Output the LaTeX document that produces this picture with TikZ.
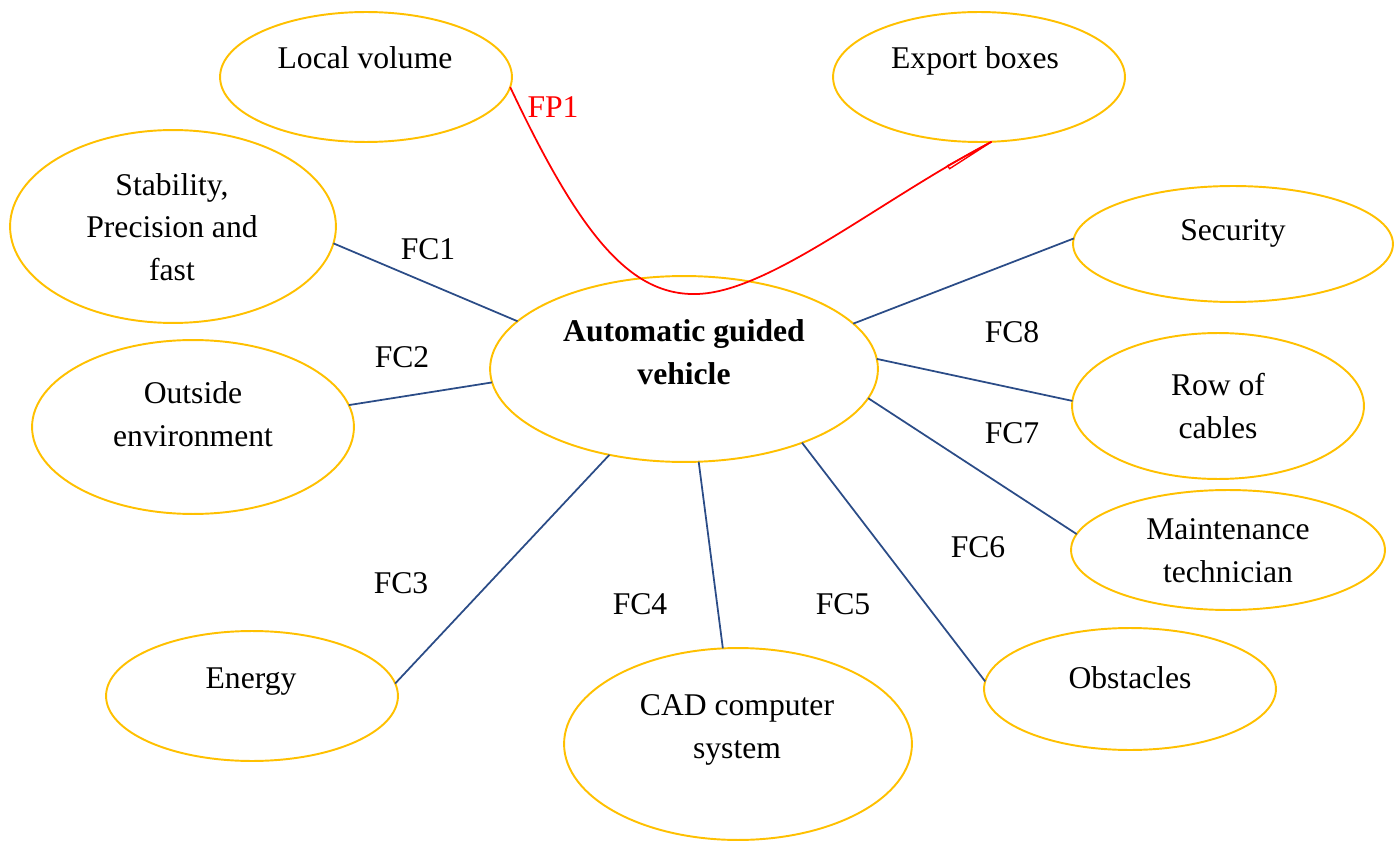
\documentclass[tikz,border=0pt]{standalone}
\usepackage{fontspec}
\setmainfont{Liberation Serif}
\usetikzlibrary{shapes.geometric}
\definecolor{ellc}{HTML}{FFC000}
\definecolor{linec}{HTML}{2B4C87}
\definecolor{redc}{HTML}{FF0000}
\begin{document}
\begin{tikzpicture}[x=0.02cm,y=-0.02cm,
  ell/.style 2 args={ellipse, draw=ellc, line width=1.1pt, inner sep=0pt, outer sep=0pt,
    minimum width=#1*0.04cm, minimum height=#2*0.04cm},
  txt/.style={anchor=base, align=center, inner sep=0pt, font=\fontsize{18}{24}\selectfont},
  fc/.style={anchor=center, inner sep=0pt, font=\fontsize{18}{24}\selectfont},
  conn/.style={draw=linec, line width=1pt}]
\useasboundingbox (0,0) rectangle (1400,841);
% ellipses
\node[ell={146}{65}] (lv) at (366,77) {};
\node[ell={146}{65}] (eb) at (979,77) {};
\node[ell={163}{96.5}] (stab) at (173,226.5) {};
\node[ell={161}{87}] (oe) at (193,427) {};
\node[ell={194}{93}] (agv) at (684,369) {};
\node[ell={160}{58}] (sec) at (1233,244) {};
\node[ell={146}{73}] (cab) at (1218,406) {};
\node[ell={157}{60}] (mt) at (1228,550) {};
\node[ell={146}{61}] (obs) at (1130,689) {};
\node[ell={174}{96}] (cad) at (738,744) {};
\node[ell={146}{65}] (en) at (252,696) {};
% texts
\node[txt] (tlv) at (365,69) {Local volume};
\node[txt] (teb) at (975,69) {Export boxes};
\node[txt] (tstab) at (172,280) {Stability,\\Precision and\\fast};
\node[txt] (toe) at (193,446) {Outside\\environment};
\node[txt] (ten) at (251,688) {Energy};
\node[txt] (tcad) at (737,758) {CAD computer\\system};
\node[txt] (tsec) at (1233,241) {Security};
\node[txt,font=\fontsize{18}{24}\selectfont\bfseries] (tagv) at (684,384) {Automatic guided\\vehicle};
\node[txt] (tcab) at (1218,438) {Row of\\cables};
\node[txt] (tmt) at (1228,582) {Maintenance\\technician};
\node[txt] (tobs) at (1130,688) {Obstacles};
% connectors
\draw[conn] (stab.-6.9) -- (agv.164.9);
\draw[conn] (oe.8.5) -- (agv.184.7);
\draw[conn] (en.5.1) -- (agv.229.6);
\draw[conn] (cad.99.7) -- (agv.279.8);
\draw[conn] (obs.177.6) -- (agv.-32.2);
\draw[conn] (mt.174.9) -- (agv.-9.2);
\draw[conn] (cab.178.4) -- (agv.3.0);
\draw[conn] (sec.178.9) -- (agv.15.5);
% red curve
\draw[redc, line width=1pt] (lv.-4) .. controls (580,235) and (630,296) .. (697,294)
  .. controls (770,292) and (880,200) .. (eb.-79);
\draw[redc, line width=0.8pt] (eb.-79) -- ++(-44,24) -- ++(2,3) -- cycle;
% labels
\node[fc] (fc1) at (428,249) {FC1};
\node[fc] (fc2) at (402,357) {FC2};
\node[fc] (fc3) at (401,583) {FC3};
\node[fc] (fc4) at (640,604) {FC4};
\node[fc] (fc5) at (843,604) {FC5};
\node[fc] (fc6) at (978,547) {FC6};
\node[fc] (fc7) at (1012,433) {FC7};
\node[fc] (fc8) at (1012,332) {FC8};
\node[fc,text=redc] (fp1) at (553,107) {FP1};
\end{tikzpicture}
\end{document}
